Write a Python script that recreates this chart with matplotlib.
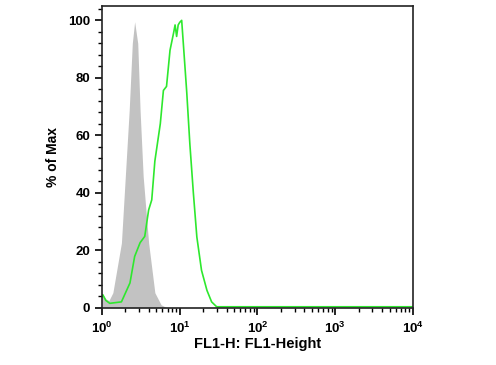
import numpy as np
import matplotlib.pyplot as plt
from matplotlib.ticker import LogLocator, MultipleLocator, FixedLocator

# isotype control (gray filled) - log10 of FL1 and % of max
gray_log = [0.0, 0.05, 0.09, 0.14, 0.25, 0.30, 0.35, 0.39, 0.42, 0.46, 0.49,
            0.53, 0.60, 0.68, 0.76, 0.83]
gray_pct = [5.0, 3.0, 2.5, 5.2, 22.5, 45.6, 68.7, 92.0, 99.5, 92.0, 68.7,
            45.6, 22.5, 5.2, 1.0, 0.0]

# stained sample (green line)
green_log = [0.0, 0.01, 0.05, 0.10, 0.25, 0.36, 0.42, 0.49, 0.55, 0.60,
             0.64, 0.68, 0.75, 0.79, 0.83, 0.875, 0.92, 0.94, 0.96, 0.98,
             1.00, 1.025, 1.046, 1.09, 1.13, 1.175, 1.22, 1.28, 1.35, 1.41,
             1.475, 2.0, 3.0, 4.0]
green_pct = [4.0, 4.5, 2.5, 1.5, 2.0, 8.6, 17.8, 22.6, 24.8, 34.0, 37.5,
             51.0, 64.0, 75.6, 77.0, 89.6, 95.5, 98.4, 94.4, 98.4, 99.3,
             100.0, 92.0, 75.0, 57.0, 40.0, 24.6, 13.0, 6.0, 2.0, 0.3,
             0.3, 0.3, 0.3]

x_ticks = [1, 10, 100, 1000, 10000]
x_tick_labels = ['$\\mathbf{10^0}$', '$\\mathbf{10^1}$', '$\\mathbf{10^2}$',
                 '$\\mathbf{10^3}$', '$\\mathbf{10^4}$']
y_ticks = [0, 20, 40, 60, 80, 100]

plt.rcParams['font.family'] = ['Liberation Sans', 'DejaVu Sans']
plt.rcParams['mathtext.fontset'] = 'custom'
plt.rcParams['mathtext.bf'] = 'Liberation Sans:bold'

fig = plt.figure(figsize=(4.96, 3.65), dpi=100)
ax = fig.add_axes([0.2056, 0.1548, 0.6271, 0.8288])

gx = 10 ** np.array(gray_log)
ax.fill_between(gx, gray_pct, 0, color='#c2c2c2', lw=0)
ax.plot(10 ** np.array(green_log), green_pct, color='#2ee82e', lw=1.2)

ax.set_xscale('log')
ax.set_xlim(1, 10000)
ax.set_ylim(-0.3, 105)

ax.xaxis.set_major_locator(FixedLocator(x_ticks))
ax.xaxis.set_minor_locator(LogLocator(base=10, subs=np.arange(2, 10)))
ax.set_xticklabels(x_tick_labels)
ax.yaxis.set_major_locator(FixedLocator(y_ticks))
ax.yaxis.set_minor_locator(MultipleLocator(4))

ax.tick_params(which='major', direction='out', length=5, width=1.2, labelsize=9.5)
ax.tick_params(which='minor', direction='out', length=3, width=1.0)
for lab in ax.get_yticklabels():
    lab.set_fontweight('bold')
for sp in ax.spines.values():
    sp.set_linewidth(1.2)
    sp.set_color('#222222')

ax.set_xlabel('FL1-H: FL1-Height', fontsize=10.5, fontweight='bold', labelpad=1)
ax.set_ylabel('% of Max', fontsize=10, fontweight='bold', labelpad=6)

fig.savefig('out.png', dpi=100)
